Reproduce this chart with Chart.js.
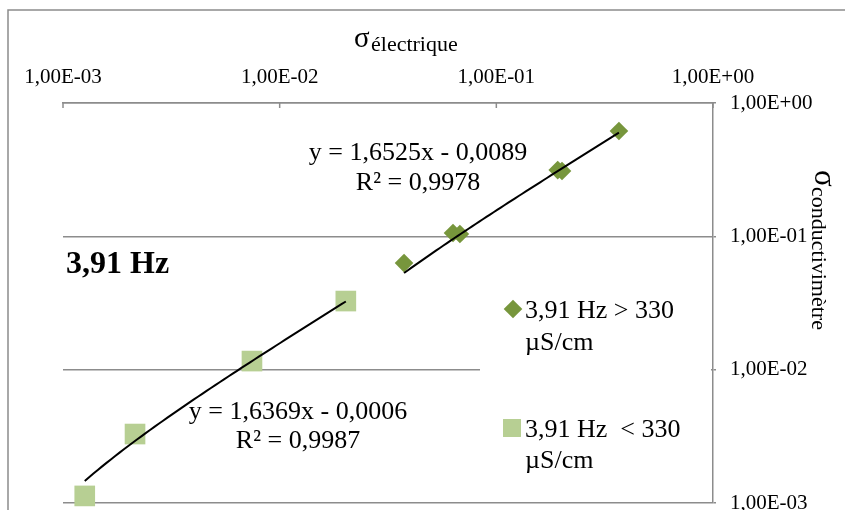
<!DOCTYPE html>
<html>
<head>
<meta charset="utf-8">
<script src="https://cdn.jsdelivr.net/npm/chart.js@4/dist/chart.umd.min.js"></script>
<style>
  html, body { margin: 0; padding: 0; background: #fff; width: 845px; height: 510px; overflow: hidden; }
  canvas { display: block; }
</style>
</head>
<body>
<canvas id="chart" width="845" height="540"></canvas>
<script>
// Axis ticks (decades) and their labels
const xTickValues = [0.001, 0.01, 0.1, 1];
const xTickLabels = ['1,00E-03', '1,00E-02', '1,00E-01', '1,00E+00'];
const yTickValues = [0.001, 0.01, 0.1, 1];
const yTickLabels = ['1,00E-03', '1,00E-02', '1,00E-01', '1,00E+00'];

// Series names
const seriesNames = ['3,91 Hz > 330 µS/cm', '3,91 Hz  < 330 µS/cm'];
const frequencyLabel = '3,91 Hz';

// High-conductivity measurements (σ électrique, σ conductivimètre)
const highX = [0.0375, 0.0631, 0.0679, 0.192, 0.201, 0.368];
const highY = [0.063, 0.106, 0.104, 0.314, 0.309, 0.617];

// Low-conductivity measurements
const lowX = [0.00126, 0.00215, 0.00745, 0.0202];
const lowY = [0.00113, 0.00329, 0.0116, 0.0327];

// Linear trend lines: [slope, intercept] and R²
const highFit = [1.6525, -0.0089];
const highR2 = 0.9978;
const lowFit = [1.6369, -0.0006];
const lowR2 = 0.9987;

const FONT = "'Liberation Serif', 'Times New Roman', serif";
const GRID = '#8c8c8c';
const DARK_GREEN = '#77963C';
const LIGHT_GREEN = '#B7CF93';

Chart.defaults.font.family = FONT;
Chart.defaults.color = '#000';

function labelFor(value, values, labels) {
  for (let i = 0; i < values.length; i++) {
    if (Math.abs(Math.log10(value) - Math.log10(values[i])) < 1e-6) return labels[i];
  }
  return '';
}

// Sample the fitted straight line y = a·x + b across the data range
function trendPoints(xs, fit) {
  const lo = Math.min(...xs), hi = Math.max(...xs), n = 60, pts = [];
  for (let i = 0; i <= n; i++) {
    const x = lo * Math.pow(hi / lo, i / n);
    pts.push({ x: x, y: fit[0] * x + fit[1] });
  }
  return pts;
}

function fmt(v) { return Math.abs(v).toFixed(4).replace('.', ','); }
function equationLines(fit, r2) {
  return ['y = ' + fmt(fit[0]) + 'x ' + (fit[1] < 0 ? '-' : '+') + ' ' + fmt(fit[1]),
          'R² = ' + fmt(r2)];
}

function toPoints(xs, ys) { return xs.map((x, i) => ({ x: x, y: ys[i] })); }

function drawMarker(ctx, style, x, y, r, color) {
  ctx.fillStyle = color;
  ctx.beginPath();
  if (style === 'rectRot') {
    ctx.moveTo(x, y - r); ctx.lineTo(x + r, y); ctx.lineTo(x, y + r); ctx.lineTo(x - r, y);
  } else {
    const s = r * Math.SQRT1_2;
    ctx.rect(x - s, y - s, 2 * s, 2 * s);
  }
  ctx.closePath();
  ctx.fill();
}

// Frame, titles, equations, in-plot legend
const decorations = {
  id: 'decorations',
  beforeDraw(chart) {
    const ctx = chart.ctx;
    ctx.save();
    ctx.strokeStyle = GRID;
    ctx.lineWidth = 1.5;
    ctx.beginPath();
    ctx.moveTo(8, 560); ctx.lineTo(8, 10); ctx.lineTo(860, 10);
    ctx.stroke();
    ctx.restore();
  },
  afterDatasetsDraw(chart) {
    const ctx = chart.ctx;
    const xs = chart.scales.x;
    const area = chart.chartArea;
    ctx.save();

    // inward tick marks on the top axis
    ctx.strokeStyle = GRID;
    ctx.lineWidth = 1.5;
    xTickValues.forEach(v => {
      const px = xs.getPixelForValue(v);
      ctx.beginPath(); ctx.moveTo(px, area.top); ctx.lineTo(px, area.top + 5); ctx.stroke();
    });

    ctx.fillStyle = '#000';
    ctx.textBaseline = 'alphabetic';

    // top axis title: σ with subscript
    ctx.textAlign = 'left';
    ctx.font = '29px ' + FONT;
    ctx.fillText('σ', 354, 47);
    ctx.font = '22px ' + FONT;
    ctx.fillText('électrique', 371, 51);

    // right axis title, rotated
    ctx.save();
    ctx.translate(815, 170);
    ctx.rotate(Math.PI / 2);
    ctx.font = '31px ' + FONT;
    ctx.fillText('σ', 0, 0);
    ctx.font = '22px ' + FONT;
    ctx.fillText('conductivimètre', 17, 3);
    ctx.restore();

    // frequency label
    ctx.font = 'bold 32px ' + FONT;
    ctx.fillText(frequencyLabel, 66, 273);

    // trend equations
    ctx.font = '26px ' + FONT;
    ctx.textAlign = 'center';
    const eqHigh = equationLines(highFit, highR2);
    ctx.fillText(eqHigh[0], 418, 160);
    ctx.fillText(eqHigh[1], 418, 190);
    const eqLow = equationLines(lowFit, lowR2);
    ctx.fillText(eqLow[0], 298, 419);
    ctx.fillText(eqLow[1], 298, 448);

    // legend box
    ctx.fillStyle = '#fff';
    ctx.fillRect(480, 280, 231, 221);
    const entries = [
      { ds: chart.data.datasets[2], cx: 513, cy: 309, r: 9.3, base: [318, 350] },
      { ds: chart.data.datasets[3], cx: 512, cy: 428, r: 12.7, base: [437, 468] }
    ];
    ctx.textAlign = 'left';
    ctx.font = '26px ' + FONT;
    entries.forEach(e => {
      drawMarker(ctx, e.ds.pointStyle, e.cx, e.cy, e.r, e.ds.backgroundColor);
      const name = e.ds.label;
      const cut = name.indexOf('µS');
      ctx.fillStyle = '#000';
      ctx.fillText(name.slice(0, cut).replace(/\s+$/, ''), 525, e.base[0]);
      ctx.fillText(name.slice(cut), 525, e.base[1]);
    });

    ctx.restore();
  }
};

new Chart(document.getElementById('chart'), {
  type: 'scatter',
  data: {
    datasets: [
      {
        label: 'trend high', data: trendPoints(highX, highFit), showLine: true,
        borderColor: '#000', borderWidth: 2, pointRadius: 0, tension: 0, order: 0, clip: false
      },
      {
        label: 'trend low', data: trendPoints(lowX, lowFit), showLine: true,
        borderColor: '#000', borderWidth: 2, pointRadius: 0, tension: 0, order: 0, clip: false
      },
      {
        label: seriesNames[0], data: toPoints(highX, highY), pointStyle: 'rectRot', pointRadius: 9.3,
        backgroundColor: DARK_GREEN, borderColor: DARK_GREEN, borderWidth: 0, order: 1, clip: false
      },
      {
        label: seriesNames[1], data: toPoints(lowX, lowY), pointStyle: 'rect', pointRadius: 14.6,
        backgroundColor: LIGHT_GREEN, borderColor: LIGHT_GREEN, borderWidth: 0, order: 2, clip: false
      }
    ]
  },
  options: {
    responsive: false,
    animation: false,
    events: [],
    layout: { padding: { left: 63, top: 0, right: 0, bottom: 37 } },
    plugins: { legend: { display: false }, tooltip: { enabled: false } },
    scales: {
      x: {
        type: 'logarithmic', position: 'top', min: 0.001, max: 1,
        afterBuildTicks: s => { s.ticks = xTickValues.map(v => ({ value: v })); },
        afterFit: s => { s.height = 103; },
        grid: { display: false, drawTicks: false },
        border: { display: true, color: GRID, width: 1.5 },
        ticks: {
          autoSkip: false, maxRotation: 0, minRotation: 0, padding: 13, color: '#000',
          font: { size: 21, family: FONT },
          callback: v => labelFor(v, xTickValues, xTickLabels)
        }
      },
      y: {
        type: 'logarithmic', position: 'right', min: 0.001, max: 1,
        afterBuildTicks: s => { s.ticks = yTickValues.map(v => ({ value: v })); },
        afterFit: s => { s.width = 132; },
        grid: { color: GRID, lineWidth: 1.5, drawTicks: true, tickLength: 3 },
        border: { display: true, color: GRID, width: 1.5 },
        ticks: {
          autoSkip: false, padding: 14, color: '#000',
          font: { size: 21, family: FONT },
          callback: v => labelFor(v, yTickValues, yTickLabels)
        }
      }
    }
  },
  plugins: [decorations]
});
</script>
</body>
</html>
